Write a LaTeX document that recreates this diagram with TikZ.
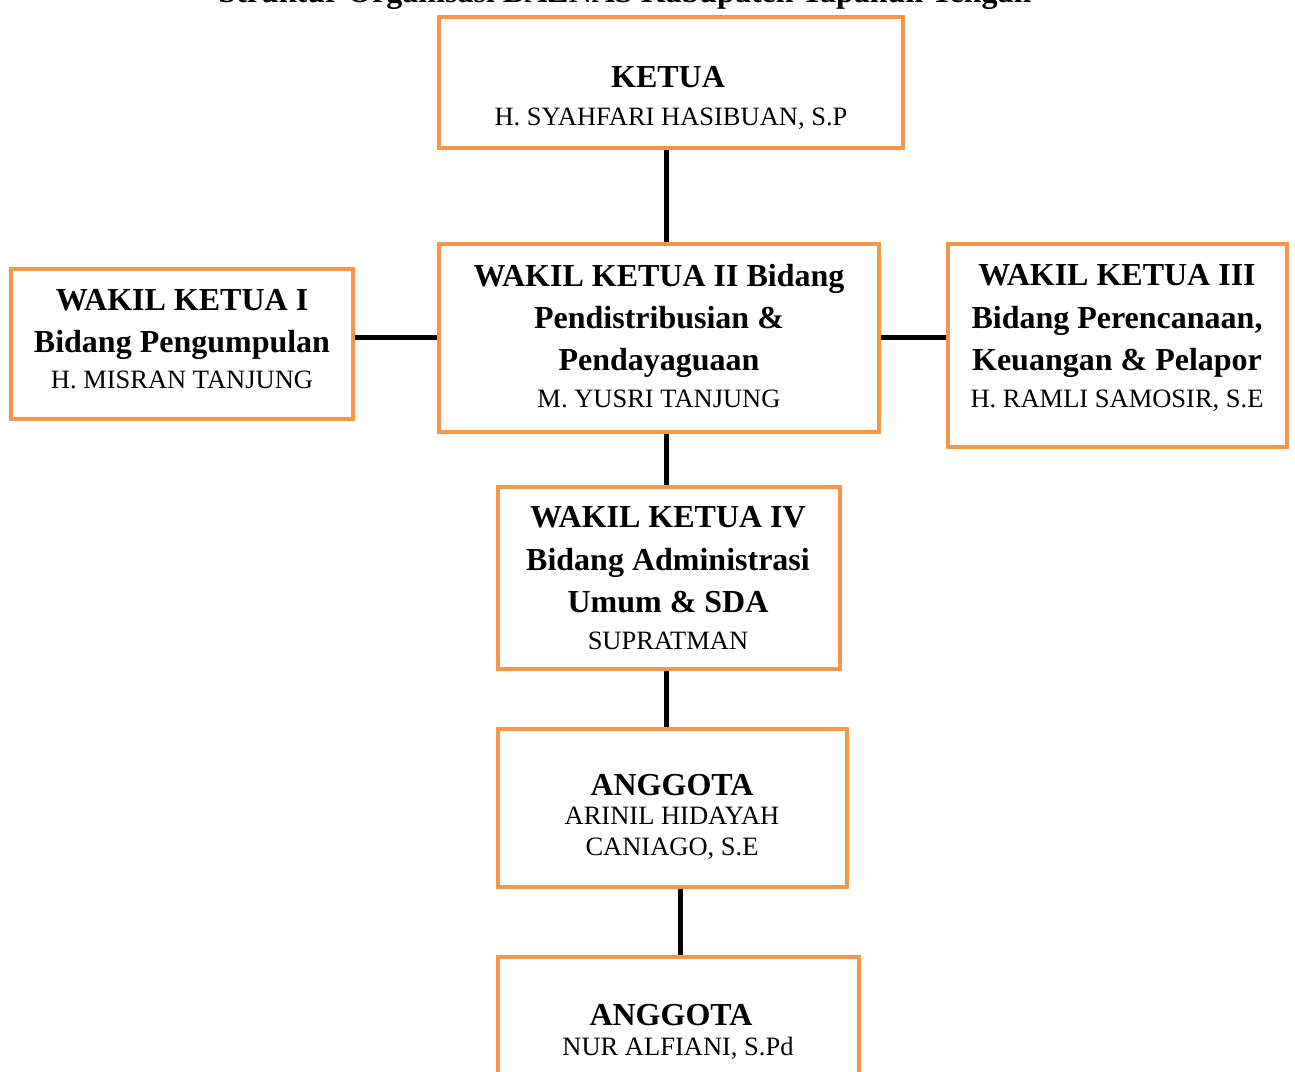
\documentclass[tikz,border=0pt]{standalone}
\usepackage{fontspec}
\setmainfont{Liberation Serif}
\definecolor{boxorange}{HTML}{F79646}
\begin{document}
\begin{tikzpicture}[x=1pt,y=-1pt,
  box/.style={draw=boxorange, line width=4pt, fill=white, inner sep=0pt, rectangle},
  conn/.style={draw=black, line width=5pt},
  hd/.style={anchor=base, inner sep=0pt, font=\fontsize{32}{38}\selectfont\bfseries},
  nm/.style={anchor=base, inner sep=0pt, font=\fontsize{26.5}{30}\selectfont}]
\useasboundingbox (0,0) rectangle (1295,1071);
\clip (0,0) rectangle (1295,1071);
\fill[white] (0,0) rectangle (1295,1071);

\node[hd] (title) at (625,2) {Struktur Organisasi BAZNAS Kabupaten Tapanuli Tengah};

% boxes
\node[box, minimum width=464pt, minimum height=131pt] (K) at (671,82.5) {};
\node[box, minimum width=342pt, minimum height=150pt] (W1) at (182,344) {};
\node[box, minimum width=440pt, minimum height=188pt] (W2) at (659,338) {};
\node[box, minimum width=339pt, minimum height=203pt] (W3) at (1117.5,345.5) {};
\node[box, minimum width=342pt, minimum height=182pt] (W4) at (669,578) {};
\node[box, minimum width=349pt, minimum height=158pt] (A1) at (672.5,808) {};
\node[box, minimum width=361pt, minimum height=173pt] (A2) at (678.5,1043.5) {};

% connectors
\draw[conn] ([xshift=-4.5pt]K.south) -- ([xshift=-4.5pt]K.south |- W2.north);
\draw[conn] ([yshift=6.5pt]W1.east) -- ([yshift=6.5pt]W1.east -| W2.west);
\draw[conn] ([yshift=0.5pt]W2.east) -- ([yshift=0.5pt]W2.east -| W3.west);
\draw[conn] ([xshift=7.5pt]W2.south) -- ([xshift=7.5pt]W2.south |- W4.north);
\draw[conn] ([xshift=-2.5pt]W4.south) -- ([xshift=-2.5pt]W4.south |- A1.north);
\draw[conn] ([xshift=7.5pt]A1.south) -- ([xshift=7.5pt]A1.south |- A2.north);

% texts
\node[hd] (k1) at (668,87) {KETUA};
\node[nm] (k2) at (671,125) {H. SYAHFARI HASIBUAN, S.P};

\node[hd] (a1) at (182,310) {WAKIL KETUA I};
\node[hd] (a2) at (182,352) {Bidang Pengumpulan};
\node[nm] (a3) at (182,388) {H. MISRAN TANJUNG};

\node[hd] (b1) at (659,286) {WAKIL KETUA II Bidang};
\node[hd] (b2) at (659,328) {Pendistribusian \&};
\node[hd] (b3) at (659,370) {Pendayaguaan};
\node[nm] (b4) at (659,407) {M. YUSRI TANJUNG};

\node[hd] (c1) at (1117,285) {WAKIL KETUA III};
\node[hd] (c2) at (1117,328) {Bidang Perencanaan,};
\node[hd] (c3) at (1117,370) {Keuangan \& Pelapor};
\node[nm] (c4) at (1117,407) {H. RAMLI SAMOSIR, S.E};

\node[hd] (d1) at (668,527) {WAKIL KETUA IV};
\node[hd] (d2) at (668,570) {Bidang Administrasi};
\node[hd] (d3) at (668,612) {Umum \& SDA};
\node[nm] (d4) at (668,649) {SUPRATMAN};

\node[hd] (e1) at (672,795) {ANGGOTA};
\node[nm] (e2) at (672,824) {ARINIL HIDAYAH};
\node[nm] (e3) at (672,855) {CANIAGO, S.E};

\node[hd] (f1) at (671,1025) {ANGGOTA};
\node[nm] (f2) at (678,1055) {NUR ALFIANI, S.Pd};
\end{tikzpicture}
\end{document}
